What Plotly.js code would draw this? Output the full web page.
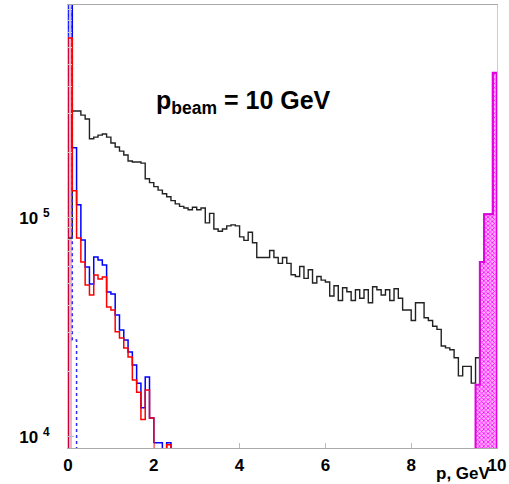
<!DOCTYPE html>
<html><head><meta charset="utf-8">
<script src="https://cdn.plot.ly/plotly-3.0.1.min.js"></script>
<style>html,body{margin:0;padding:0;background:#fff}#chart{width:509px;height:484px}</style>
</head><body><div id="chart"></div>
<script>
// ---- data (counts per 0.1 GeV bin) ----
const binWidth = 0.1;
const blackStart = 0;
const blackCounts = [
 8.1e4, 3.08e5, 3.08e5, 2.95e5, 2.83e5, 2.30e5, 2.34e5, 2.39e5, 2.42e5, 2.34e5,
 2.20e5, 2.11e5, 2.02e5, 1.94e5, 1.82e5, 1.80e5, 1.80e5, 1.78e5, 1.51e5, 1.45e5,
 1.39e5, 1.34e5, 1.29e5, 1.25e5, 1.20e5, 1.16e5, 1.13e5, 1.11e5, 1.09e5, 1.12e5,
 1.09e5, 1.11e5, 9.5e4, 1.05e5, 8.9e4, 8.7e4, 8.9e4, 9.2e4, 9.3e4, 9.2e4,
 8.2e4, 7.9e4, 8.6e4, 7.7e4, 6.6e4, 6.6e4, 6.6e4, 7.1e4, 6.6e4, 6.2e4,
 6.6e4, 6.2e4, 5.5e4, 5.4e4, 6.0e4, 5.3e4, 5.8e4, 5.05e4, 5.4e4, 5.2e4,
 5.1e4, 4.4e4, 4.9e4, 4.2e4, 4.8e4, 4.6e4, 4.2e4, 4.7e4, 4.3e4, 4.7e4,
 4.1e4, 4.85e4, 4.7e4, 4.45e4, 4.7e4, 4.2e4, 4.75e4, 4.3e4, 3.8e4, 3.8e4,
 3.4e4, 4.1e4, 4.1e4, 3.5e4, 3.4e4, 3.2e4, 3.1e4, 2.6e4, 2.55e4, 2.5e4,
 2.3e4, 1.9e4, 2.1e4, 2.1e4, 1.76e4, 2.3e4, 6.3e4, 1.04e5, 1.04e5, 4.6e5
];
const blueStart = 0;
const blueCounts = [
 1.5e6, 2.09e5, 1.15e5, 7.94e4, 5.97e4, 4.99e4, 6.64e4, 6.43e4, 6.1e4, 4.59e4,
 4.5e4, 3.6e4, 3.08e4, 2.77e4, 2.44e4, 2.13e4, 1.76e4, 1.36e4, 1.88e4, 1.22e4,
 9.4e3, 9.4e3, 0, 9.4e3
];
const redStart = 0;
const redCounts = [
 6.64e5, 1.33e5, 8.1e4, 6.3e4, 4.94e4, 4.45e4, 5.49e4, 5.27e4, 5.38e4, 3.92e4,
 3.8e4, 3.02e4, 2.83e4, 2.55e4, 2.32e4, 1.82e4, 1.6e4, 1.2e4, 1.64e4, 1.22e4,
 0, 0, 0, 9.2e3
];
const blueDottedStart = 0;
const blueDottedCounts = [2.0e6, 2.77e4];
const elasticStart = 9.5;
const elasticCounts = [1.73e4, 6.3e4, 1.04e5, 1.04e5, 4.6e5];

const xTickVals = [0, 2, 4, 6, 8, 10];
const yTickVals = [1e4, 1e5];
const yTickText = ['10\u00a0<sup>4</sup>', '10\u00a0<sup>5</sup>'];
const yMinorVals = [2e4,3e4,4e4,5e4,6e4,7e4,8e4,9e4,2e5,3e5,4e5,5e5,6e5,7e5,8e5,9e5];
const titleText = 'p<sub>beam</sub> = 10 GeV';
const xTitleText = 'p, GeV';

// ---- helpers ----
const FLOOR = 1; // empty bins drop below the visible log range
function stepTrace(start, counts, line) {
  const xs = [start], ys = [FLOOR];
  counts.forEach((c, i) => { xs.push(start + i * binWidth); ys.push(c > 0 ? c : FLOOR); });
  const last = counts[counts.length - 1];
  xs.push(start + counts.length * binWidth); ys.push(last > 0 ? last : FLOOR);
  xs.push(start + counts.length * binWidth); ys.push(FLOOR);
  return {type: 'scatter', mode: 'lines', x: xs, y: ys,
          line: Object.assign({shape: 'hv'}, line), hoverinfo: 'skip', showlegend: false};
}
function centers(start, counts) { return counts.map((_, i) => start + (i + 0.5) * binWidth); }

const traces = [];
// first-bin fills (blue behind red)
traces.push({type: 'bar', x: [centers(blueStart, blueCounts)[0]], y: [blueCounts[0]], width: binWidth,
  marker: {color: 'rgb(196,196,250)', line: {width: 0}}, hoverinfo: 'skip', showlegend: false});
traces.push({type: 'bar', x: [centers(redStart, redCounts)[0]], y: [redCounts[0]], width: binWidth,
  marker: {color: 'rgb(242,178,198)', line: {width: 0}}, hoverinfo: 'skip', showlegend: false});
// elastic peak hatched
traces.push({type: 'bar', x: centers(elasticStart, elasticCounts), y: elasticCounts, width: binWidth,
  marker: {color: '#ff99ff', line: {width: 0},
           pattern: {shape: 'x', size: 3, solidity: 0.45, fgcolor: '#ff00ff', bgcolor: '#ffb0ff'}},
  hoverinfo: 'skip', showlegend: false});
traces.push(stepTrace(blackStart, blackCounts, {color: '#222', width: 1.4}));
traces.push(stepTrace(elasticStart, elasticCounts, {color: '#e000e0', width: 2}));
traces.push(stepTrace(blueDottedStart, blueDottedCounts, {color: '#2a2aff', width: 1.5, dash: 'dot'}));
traces.push(stepTrace(blueStart, blueCounts, {color: '#0000ff', width: 1.5}));
traces.push(stepTrace(redStart, redCounts, {color: '#ff0000', width: 1.5}));

const tickFont = {family: 'Liberation Sans, Arial, sans-serif', size: 17, color: '#000', weight: 'bold'};

const layout = {
  width: 509, height: 484,
  margin: {l: 68, r: 12, t: 5, b: 36, pad: 0},
  paper_bgcolor: '#fff', plot_bgcolor: '#fff',
  showlegend: false, bargap: 0, barmode: 'overlay',
  xaxis: {
    range: [0, 10], tickvals: xTickVals, ticktext: xTickVals.map(String),
    ticks: 'inside', ticklen: 5, tickcolor: '#bbb', tickfont: tickFont,
    showgrid: false, zeroline: false, showline: true, linecolor: '#aaa', linewidth: 1, mirror: true,
    ticklabelstandoff: 2
  },
  yaxis: {
    type: 'log', range: [Math.log10(8.9e3), Math.log10(9.39e5)],
    tickvals: yTickVals, ticktext: yTickText,
    ticks: 'inside', ticklen: 6, tickcolor: '#bbb', tickfont: tickFont,
    minor: {tickvals: yMinorVals, ticks: 'inside', ticklen: 4, tickcolor: '#c8c8c8'},
    showgrid: false, zeroline: false, showline: true, linecolor: '#ccc', linewidth: 1, mirror: true,
    ticklabelstandoff: 14
  },
  annotations: [
    {text: titleText, xref: 'paper', yref: 'paper', x: 0.200, y: 0.782, xanchor: 'left', yanchor: 'middle',
     showarrow: false, font: {family: 'Liberation Sans, Arial, sans-serif', size: 25, color: '#000', weight: 'bold'}},
    {text: xTitleText, xref: 'paper', yref: 'paper', x: 0.99, y: -0.058, xanchor: 'right', yanchor: 'middle',
     showarrow: false, font: {family: 'Liberation Sans, Arial, sans-serif', size: 17, color: '#000', weight: 'bold'}}
  ]
};

Plotly.newPlot('chart', traces, layout, {displayModeBar: false, staticPlot: true});
</script>
</body></html>
